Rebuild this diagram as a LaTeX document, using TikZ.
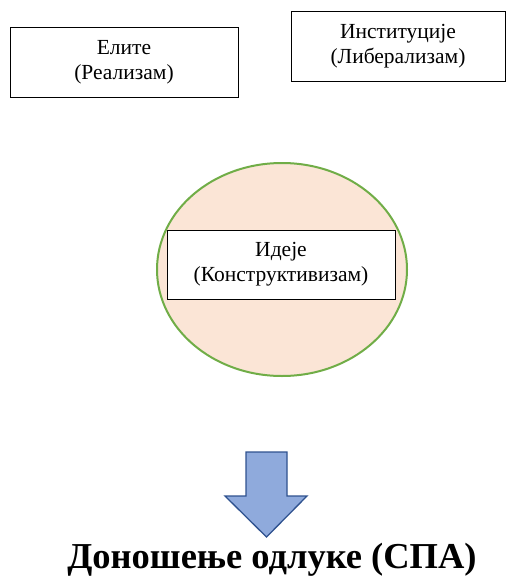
\documentclass[tikz,border=0pt]{standalone}
\usepackage{fontspec}
\setmainfont{Liberation Serif}
\usetikzlibrary{shapes.geometric}
\definecolor{boxline}{HTML}{000000}
\definecolor{ellfill}{HTML}{FBE5D6}
\definecolor{ellline}{HTML}{70AD47}
\definecolor{arrfill}{HTML}{8FAADC}
\definecolor{arrline}{HTML}{2F528F}
\tikzset{
  textbox/.style={draw=boxline, line width=1pt, fill=white, align=center,
    inner sep=0pt, font=\fontsize{21.5}{25}\selectfont},
}
\begin{document}
\begin{tikzpicture}[x=1pt,y=-1pt]
\useasboundingbox (0,0) rectangle (506,586);
\node[textbox, minimum width=228pt, minimum height=69pt] (elite) at (124,62.5) {Елите\\(Реализам)};
\node[textbox, minimum width=214pt, minimum height=69pt] (inst) at (398,46.5) {Институције\\(Либерализам)};
\node[ellipse, draw=ellline, fill=ellfill, line width=2pt, minimum width=250pt, minimum height=213pt, inner sep=0pt] (ell) at (282,269.5) {};
\node[textbox, minimum width=228pt, minimum height=69pt] (ideje) at (281,264.5) {Идеје\\(Конструктивизам)};
\draw[draw=arrline, fill=arrfill, line width=1.3pt, line join=miter]
  (246,452) -- (287,452) -- (287,496) -- (307,496) -- (266.5,537) -- (225,496) -- (246,496) -- cycle;
\node[font=\fontsize{36.5}{42}\selectfont\bfseries, inner sep=0pt, anchor=base] (title) at (272,568) {Доношење одлуке (СПА)};
\end{tikzpicture}
\end{document}
